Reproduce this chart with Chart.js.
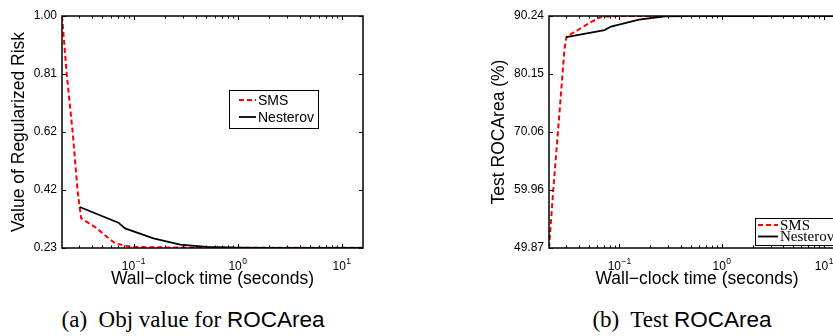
<!DOCTYPE html>
<html>
<head>
<meta charset="utf-8">
<script src="https://cdn.jsdelivr.net/npm/chart.js@4/dist/chart.umd.min.js"></script>
<style>
  html, body { margin: 0; padding: 0; background: #fff; overflow: hidden; width: 833px; height: 336px; }
  #wrap { position: relative; width: 833px; height: 336px; overflow: hidden; }
  canvas { position: absolute; top: 0; }
  #cvA { left: 0; }
  #cvB { left: 420px; }
  .cap { position: absolute; top: 308px; line-height: 23px; text-align: center; white-space: nowrap;
         font-family: "Liberation Serif", "Times New Roman", serif; font-size: 23px; color: #000; }
  .cap .sf { font-family: "Liberation Sans", Arial, sans-serif; font-size: 22.5px; }
  #capA { left: 0; width: 386px; }
  #capB { left: 520px; width: 324px; }
</style>
</head>
<body>
<div id="wrap">
  <canvas id="cvA" width="420" height="300"></canvas>
  <canvas id="cvB" width="440" height="300"></canvas>
  <div class="cap" id="capA">(a)&nbsp; Obj value for <span class="sf">ROCArea</span></div>
  <div class="cap" id="capB">(b)&nbsp; Test <span class="sf">ROCArea</span></div>
</div>
<script>
// Wall-clock time stamps (seconds) for each solver
const timeSMS      = [0.0205, 0.0228, 0.026, 0.029, 0.0303, 0.0313, 0.0443, 0.0552, 0.0664, 0.0925, 0.144, 0.3, 1, 16];
const timeNesterov = [0.0303, 0.0714, 0.0828, 0.155, 0.28, 0.506, 0.912, 2, 16];

// Objective (regularized risk) values
const riskSMS      = [1.0, 0.804, 0.612, 0.417, 0.366, 0.329, 0.2954, 0.2675, 0.2456, 0.2343, 0.2323, 0.2318, 0.2312, 0.2308];
const riskNesterov = [0.366, 0.314, 0.295, 0.262, 0.241, 0.2335, 0.231, 0.2302, 0.2300];

// Test ROCArea (%)
const rocSMS      = [49.87, 61.0, 73.6, 84.4, 86.55, 86.8, 88.37, 89.37, 90.1, 90.22, 90.23, 90.24, 90.24, 90.24];
const rocNesterov = [86.58, 87.8, 88.4, 89.6, 90.19, 90.23, 90.24, 90.24, 90.24];

// Axis ticks and their printed labels
const riskTicks      = [0.23, 0.4225, 0.615, 0.8075, 1.0];
const riskTickLabels = ['0.23', '0.42', '0.62', '0.81', '1.00'];
const rocTicks       = [49.87, 59.96, 70.06, 80.15, 90.24];
const rocTickLabels  = ['49.87', '59.96', '70.06', '80.15', '90.24'];
const xTickValues = [0.1, 1, 10];
const xTickExps   = ['\u22121', '0', '1'];
const xRange = [0.0205, 16];

const seriesNames = ['SMS', 'Nesterov'];

const SANS = '"Liberation Sans", Arial, Helvetica, sans-serif';
const SERIF = '"Liberation Serif", "Times New Roman", serif';

function pts(xs, ys) { return xs.map((x, i) => ({ x: x, y: ys[i] })); }

// Box, inward ticks, log tick labels and the in-axes legend
const matlabAxes = {
  id: 'matlabAxes',
  afterDatasetsDraw(chart, args, o) {
    const { ctx, chartArea: a, scales } = chart;
    const x = scales.x, y = scales.y;
    ctx.save();
    ctx.strokeStyle = '#000';
    ctx.lineWidth = 1;
    const seg = (x1, y1, x2, y2) => { ctx.beginPath(); ctx.moveTo(x1, y1); ctx.lineTo(x2, y2); ctx.stroke(); };
    y.ticks.forEach(t => {
      const py = Math.round(y.getPixelForValue(t.value)) + 0.5;
      seg(a.left, py, a.left + 4, py);
      seg(a.right, py, a.right - 4, py);
    });
    const d0 = Math.floor(Math.log10(xRange[0])), d1 = Math.ceil(Math.log10(xRange[1]));
    for (let d = d0; d <= d1; d++) {
      for (let k = 1; k <= 9; k++) {
        const v = k * Math.pow(10, d);
        if (v < xRange[0] || v > xRange[1]) continue;
        const px = Math.round(x.getPixelForValue(v)) + 0.5;
        const len = k === 1 ? 4 : 2.5;
        seg(px, a.bottom, px, a.bottom - len);
        seg(px, a.top, px, a.top + len);
      }
    }
    ctx.lineWidth = 1.5;
    ctx.strokeRect(a.left, a.top, a.right - a.left, a.bottom - a.top);

    // x tick labels as 10^n
    ctx.fillStyle = '#000';
    ctx.textBaseline = 'alphabetic';
    ctx.textAlign = 'left';
    xTickValues.forEach((v, i) => {
      const px = x.getPixelForValue(v);
      ctx.font = '12px ' + SANS;
      const wb = ctx.measureText('10').width;
      ctx.font = '8.5px ' + SANS;
      const we = ctx.measureText(xTickExps[i]).width;
      const x0 = px - (wb + we + 0.5) / 2;
      ctx.font = '12px ' + SANS;
      ctx.fillText('10', x0, a.bottom + 22);
      ctx.font = '8.5px ' + SANS;
      ctx.fillText(xTickExps[i], x0 + wb + 0.5, a.bottom + 16);
    });

    // legend
    const L = o.legend;
    ctx.fillStyle = '#fff';
    ctx.fillRect(L.x, L.y, L.w, L.h);
    ctx.lineWidth = 1;
    ctx.strokeStyle = '#000';
    ctx.strokeRect(L.x + 0.5, L.y + 0.5, L.w, L.h);
    ctx.font = L.font;
    chart.data.datasets.slice().sort((p, q) => seriesNames.indexOf(p.label) - seriesNames.indexOf(q.label)).forEach((ds, i) => {
      const ly = L.y + L.rows[i];
      ctx.strokeStyle = ds.borderColor;
      ctx.lineWidth = ds.borderWidth;
      ctx.setLineDash(ds.borderDash || []);
      seg(L.x + L.lineX0, ly, L.x + L.lineX1, ly);
      ctx.setLineDash([]);
      ctx.fillStyle = '#000';
      ctx.fillText(ds.label, L.x + L.textX, ly + L.textDy);
    });
    ctx.restore();
  }
};

function makeChart(id, ys, yRange, yTickVals, yTickLabels, yTitle, padLeft, yWidth, padRight, legend) {
  return new Chart(document.getElementById(id), {
    type: 'line',
    data: {
      datasets: [
        { label: seriesNames[1], data: pts(timeNesterov, ys[1]), borderColor: '#000', borderWidth: 1.8,
          pointRadius: 0, tension: 0, fill: false, order: 0 },
        { label: seriesNames[0], data: pts(timeSMS, ys[0]), borderColor: '#ff0000', borderWidth: 2,
          borderDash: [5, 3], pointRadius: 0, tension: 0, fill: false, order: 1 }
      ]
    },
    options: {
      responsive: false,
      animation: false,
      devicePixelRatio: 1,
      layout: { padding: { left: padLeft, top: 16, right: padRight, bottom: 0 } },
      plugins: { legend: { display: false }, tooltip: { enabled: false }, matlabAxes: { legend: legend } },
      scales: {
        x: {
          type: 'logarithmic', min: xRange[0], max: xRange[1],
          grid: { display: false, drawTicks: false }, border: { display: false },
          ticks: { display: false },
          title: { display: true, text: 'Wall\u2212clock time (seconds)', color: '#000',
                   font: { family: SANS, size: 17.5 }, padding: { top: 0, bottom: 10 } },
          afterFit: s => { s.height = 52; }
        },
        y: {
          type: 'linear', min: yRange[0], max: yRange[1],
          grid: { display: false, drawTicks: false }, border: { display: false },
          afterBuildTicks: s => { s.ticks = yTickVals.map(v => ({ value: v })); },
          ticks: { color: '#000', padding: 5, font: { family: SANS, size: 12 },
                   callback: (v, i) => yTickLabels[i] },
          title: { display: true, text: yTitle, color: '#000',
                   font: { family: SANS, size: 17.5 }, padding: { top: 0, bottom: 0 } },
          afterFit: s => { s.width = yWidth; }
        }
      }
    },
    plugins: [matlabAxes]
  });
}

makeChart('cvA', [riskSMS, riskNesterov], [0.23, 1.0], riskTicks, riskTickLabels, 'Value of Regularized Risk', 9, 53, 57,
  { x: 229, y: 90, w: 89, h: 38, font: '14px ' + SANS, rows: [10, 27], lineX0: 10, lineX1: 27, textX: 29, textDy: 5 });

makeChart('cvB', [rocSMS, rocNesterov], [49.87, 90.24], rocTicks, rocTickLabels, 'Test ROCArea (%)', 69, 60, 15,
  { x: 335, y: 218, w: 88, h: 27, font: '15px ' + SERIF, rows: [7, 18.5], lineX0: 3, lineX1: 23, textX: 25, textDy: 4.5 });
</script>
</body>
</html>
